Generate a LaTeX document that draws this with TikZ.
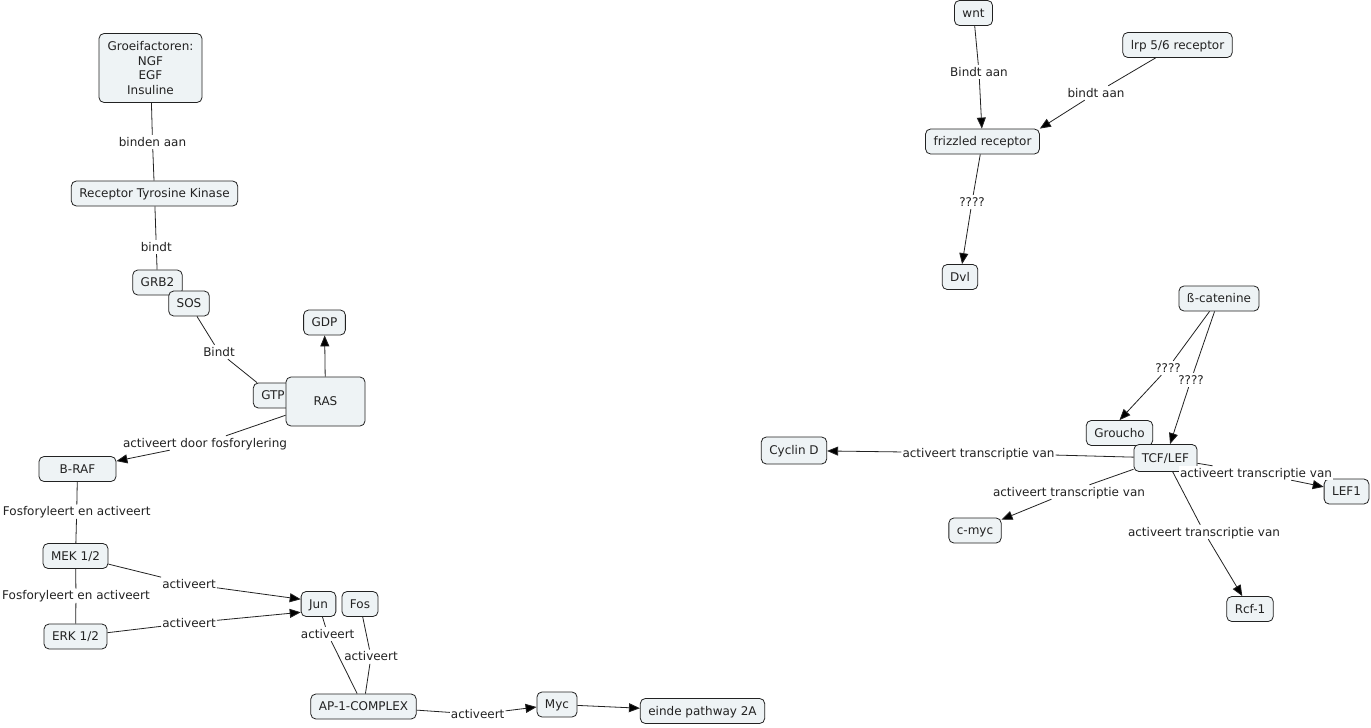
\documentclass[tikz,border=0pt]{standalone}
\usepackage{fontspec}
\setmainfont{DejaVu Sans}
\usetikzlibrary{arrows.meta}
\definecolor{cmapbg}{RGB}{238,243,245}
\definecolor{cmapline}{RGB}{34,34,34}

\tikzset{
  concept/.style={draw=cmapline, fill=cmapbg, rounded corners=5pt, line width=0.8pt,
    inner xsep=8pt, inner ysep=3pt, minimum height=25pt, text height=10pt, text depth=2pt, text=cmapline},
  linklabel/.style={fill=white, inner sep=1pt, text height=10pt, text depth=2pt, text=cmapline},
  line/.style={draw=cmapline, line width=0.8pt},
  arr/.style={-{Triangle[length=11pt,width=9pt]}},
}

\begin{document}
\begin{tikzpicture}[x=1pt, y=-1pt, font=\fontsize{12}{14.5}\selectfont]
  \useasboundingbox[fill=white] (0,0) rectangle (1371,728);

  % MAPK pathway
  \node[concept, align=center, minimum width=103pt, minimum height=69pt, text height=, text depth=]
    (gf) at (150.5,68) {Groeifactoren:\\NGF\\EGF\\Insuline};
  \node[concept] (rtk) at (154.5,193.5) {Receptor Tyrosine Kinase};
  \node[concept] (grb) at (157.5,282.5) {GRB2};
  \node[concept] (sos) at (189,303.5) {SOS};
  \node[concept] (gdp) at (324.5,322.5) {GDP};
  \node[concept] (gtp) at (273,395.5) {GTP};
  \node[concept, minimum width=79pt, minimum height=49pt] (ras) at (325.5,401.5) {RAS};
  \node[concept, minimum width=77pt] (braf) at (77.5,469) {B-RAF};
  \node[concept] (mek) at (75.5,556) {MEK 1/2};
  \node[concept] (erk) at (75.5,636.5) {ERK 1/2};
  \node[concept] (jun) at (318.5,604) {Jun};
  \node[concept] (fos) at (360,604) {Fos};
  \node[concept] (ap) at (363.5,706.5) {AP-1-COMPLEX};
  \node[concept] (myc) at (557,704.5) {Myc};
  \node[concept] (einde) at (702.5,711) {einde pathway 2A};

  % Wnt pathway
  \node[concept] (wnt) at (973.5,13) {wnt};
  \node[concept] (lrp) at (1177.5,45) {lrp 5/6 receptor};
  \node[concept] (fzd) at (982.5,141.5) {frizzled receptor};
  \node[concept] (dvl) at (960,277) {Dvl};
  \node[concept] (bcat) at (1219,298.5) {ß-catenine};
  \node[concept] (grou) at (1119.5,433) {Groucho};
  \node[concept, minimum height=27pt] (tcf) at (1165.5,458) {TCF/LEF};
  \node[concept, minimum height=27pt] (cycd) at (794,450.5) {Cyclin D};
  \node[concept] (cmyc) at (975,530.5) {c-myc};
  \node[concept] (lef) at (1346.5,491.5) {LEF1};
  \node[concept] (rcf) at (1250,609) {Rcf-1};

  % link labels
  \node[linklabel] (l-gf) at (152.5,142) {binden aan};
  \node[linklabel] (l-rtk) at (156.3,247) {bindt};
  \node[linklabel] (l-sos) at (219,352) {Bindt};
  \node[linklabel] (l-ras) at (205,443) {activeert door fosforylering};
  \node[linklabel] (l-braf) at (76.7,511.7) {Fosforyleert en activeert};
  \node[linklabel] (l-mek) at (76,595.7) {Fosforyleert en activeert};
  \node[linklabel] (l-mekjun) at (189,584) {activeert};
  \node[linklabel] (l-erkjun) at (189,623) {activeert};
  \node[linklabel] (l-jun) at (327.7,634) {activeert};
  \node[linklabel] (l-fos) at (371,656.7) {activeert};
  \node[linklabel] (l-ap) at (477.7,714.3) {activeert};
  \node[linklabel] (l-wnt) at (979,72) {Bindt aan};
  \node[linklabel] (l-lrp) at (1096,93) {bindt aan};
  \node[linklabel] (l-fzd) at (972,202) {????};
  \node[linklabel] (l-bgrou) at (1168,368) {????};
  \node[linklabel] (l-btcf) at (1191,380) {????};
  \node[linklabel] (l-cycd) at (978.5,453) {activeert transcriptie van};
  \node[linklabel] (l-cmyc) at (1069,492) {activeert transcriptie van};
  \node[linklabel] (l-lef) at (1256,473) {activeert transcriptie van};
  \node[linklabel] (l-rcf) at (1204,532) {activeert transcriptie van};

  \path[line]
  (gf) edge (l-gf) (l-gf) edge (rtk)
  (rtk) edge (l-rtk) (l-rtk) edge (grb)
  (sos) edge (l-sos) (l-sos) edge (gtp)
  (ras) edge[arr] (gdp)
  (ras) edge (l-ras) (l-ras) edge[arr] (braf)
  (braf) edge (l-braf) (l-braf) edge (mek)
  (mek) edge (l-mek) (l-mek) edge (erk)
  (mek) edge (l-mekjun) (l-mekjun) edge[arr] (jun.165)
  (erk) edge (l-erkjun) (l-erkjun) edge[arr] (jun.205)
  (jun) edge (l-jun) (l-jun) edge (ap)
  (fos) edge (l-fos) (l-fos) edge (ap)
  (ap) edge (l-ap) (l-ap) edge[arr] (myc)
  (myc) edge[arr] (einde)
  ;
  \path[line]
  (wnt) edge (l-wnt) (l-wnt) edge[arr] (fzd)
  (lrp) edge (l-lrp) (l-lrp) edge[arr] (fzd.north east)
  (fzd) edge (l-fzd) (l-fzd) edge[arr] (dvl)
  (bcat) edge (l-bgrou) (l-bgrou) edge[arr] (grou.north)
  (bcat) edge (l-btcf) (l-btcf) edge[arr] (tcf)
  (tcf) edge (l-cycd) (l-cycd) edge[arr] (cycd)
  (tcf) edge (l-cmyc) (l-cmyc) edge[arr] (cmyc)
  (tcf) edge (l-lef) (l-lef) edge[arr] (lef)
  (tcf) edge (l-rcf) (l-rcf) edge[arr] (rcf)
  ;
\end{tikzpicture}
\end{document}
